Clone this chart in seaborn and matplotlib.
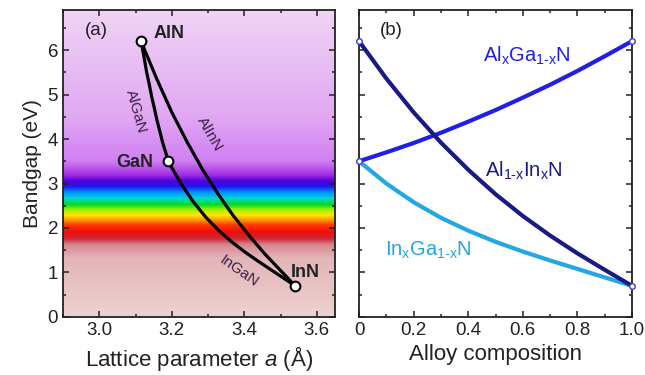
import numpy as np
import matplotlib
matplotlib.use('Agg')
import matplotlib.pyplot as plt
from matplotlib.colors import LinearSegmentedColormap
from matplotlib.ticker import MultipleLocator, FixedLocator, FixedFormatter
import seaborn as sns

sns.set_theme(style='ticks')
plt.rcParams['font.family'] = ['Liberation Sans', 'DejaVu Sans']
plt.rcParams['mathtext.fontset'] = 'custom'
plt.rcParams['mathtext.rm'] = 'Liberation Sans'
plt.rcParams['mathtext.it'] = 'Liberation Sans:italic'

# composition grid and bandgaps (eV)
comp = [0.0, 0.1, 0.2, 0.3, 0.4, 0.5, 0.6, 0.7, 0.8, 0.9, 1.0]
eg_algan = [3.50, 3.70, 3.91, 4.14, 4.39, 4.65, 4.93, 5.22, 5.53, 5.86, 6.20]
eg_alinn = [6.20, 5.36, 4.60, 3.92, 3.31, 2.76, 2.27, 1.83, 1.43, 1.06, 0.70]
eg_ingan = [3.50, 3.00, 2.58, 2.23, 1.94, 1.69, 1.47, 1.27, 1.08, 0.89, 0.70]

# lattice parameters (Å) along the same compositions, panel (a)
a_algan = [3.190, 3.183, 3.175, 3.168, 3.160, 3.153, 3.145, 3.138, 3.130, 3.123, 3.115]
a_alinn = [3.115, 3.158, 3.200, 3.243, 3.285, 3.328, 3.370, 3.413, 3.455, 3.498, 3.540]
a_ingan = [3.190, 3.225, 3.260, 3.295, 3.330, 3.365, 3.400, 3.435, 3.470, 3.505, 3.540]

binaries = ['AlN', 'GaN', 'InN']
bin_a = [3.115, 3.190, 3.540]
bin_eg = [6.20, 3.50, 0.70]

YMAX = 6.9

fig = plt.figure(figsize=(6.45, 3.75), dpi=100)
ax1 = fig.add_axes([0.0977, 0.1547, 0.4217, 0.8187])
ax2 = fig.add_axes([0.5566, 0.1547, 0.4233, 0.8187])

# visible spectrum background
stops = [(0.0, (0.93, 0.82, 0.82)), (1.3, (0.89, 0.71, 0.72)), (1.6, (0.84, 0.54, 0.57)),
         (1.75, (0.80, 0.15, 0.20)), (1.9, (0.95, 0.05, 0.05)), (2.05, (1.0, 0.22, 0.0)),
         (2.15, (1.0, 0.55, 0.0)), (2.28, (1.0, 0.90, 0.0)), (2.4, (0.6, 0.95, 0.0)),
         (2.52, (0.0, 0.85, 0.2)), (2.65, (0.0, 0.85, 0.8)), (2.78, (0.0, 0.6, 1.0)),
         (2.92, (0.1, 0.1, 0.95)), (3.05, (0.35, 0.0, 0.85)), (3.2, (0.65, 0.2, 0.9)),
         (3.5, (0.82, 0.5, 0.95)), (4.5, (0.88, 0.66, 0.95)), (YMAX, (0.94, 0.83, 0.96))]
cmap = LinearSegmentedColormap.from_list('spec', [(v / YMAX, c) for v, c in stops])
grad = np.linspace(0, YMAX, 400).reshape(-1, 1)
ax1.imshow(grad, extent=[2.9, 3.65, 0, YMAX], origin='lower', aspect='auto',
           cmap=cmap, vmin=0, vmax=YMAX, zorder=0)

for xs, ys in [(a_algan, eg_algan), (a_alinn, eg_alinn), (a_ingan, eg_ingan)]:
    sns.lineplot(x=xs, y=ys, ax=ax1, color='black', lw=2.3, sort=False, estimator=None, zorder=3)
ax1.plot(bin_a, bin_eg, 'o', ms=7, mfc='white', mec='black', mew=1.5, zorder=4)

ax1.text(3.15, 6.38, 'AlN', fontsize=13, fontweight='bold', ha='left', va='center', color='#222')
ax1.text(3.15, 3.48, 'GaN', fontsize=13, fontweight='bold', ha='right', va='center', color='#222')
ax1.text(3.528, 1.0, 'InN', fontsize=13, fontweight='bold', ha='left', va='center', color='#222')
lab = dict(fontsize=11, color='#3a2048', ha='center', va='center')
ax1.text(3.10, 4.62, 'AlGaN', rotation=-74, **lab)
ax1.text(3.305, 4.12, 'AlInN', rotation=-60, **lab)
ax1.text(3.386, 1.03, 'InGaN', rotation=-35, **lab)
ax1.text(2.96, 6.43, '(a)', fontsize=13.5, ha='left', va='center', color='#222')

ax1.set_xlim(2.9, 3.65)
ax1.set_ylim(0, YMAX)
ax1.xaxis.set_major_locator(MultipleLocator(0.2))
ax1.xaxis.set_minor_locator(MultipleLocator(0.1))
ax1.set_xlabel('Lattice parameter $a$ (Å)', fontsize=16)
ax1.set_ylabel('Bandgap (eV)', fontsize=15)

# panel (b)
c_algan, c_alinn, c_ingan = '#1f1fe6', '#1a1a85', '#22a6e4'
sns.lineplot(x=comp, y=eg_algan, ax=ax2, color=c_algan, lw=3, sort=False, estimator=None)
sns.lineplot(x=comp, y=eg_ingan, ax=ax2, color=c_ingan, lw=3, sort=False, estimator=None)
sns.lineplot(x=comp, y=eg_alinn, ax=ax2, color=c_alinn, lw=3, sort=False, estimator=None)
ax2.plot([0, 0, 1, 1], [eg_alinn[0], eg_algan[0], eg_algan[-1], eg_ingan[-1]], 'o', ms=4,
         mfc='white', mec='#3a3ad0', mew=1, clip_on=False, zorder=5)

ax2.text(0.454, 5.87, r'Al$_\mathregular{x}$Ga$_\mathregular{1\text{-}x}$N', color=c_algan,
         fontsize=14.5, ha='left', va='center')
ax2.text(0.46, 3.28, r'Al$_\mathregular{1\text{-}x}$In$_\mathregular{x}$N', color=c_alinn,
         fontsize=14.5, ha='left', va='center')
ax2.text(0.095, 1.5, r'In$_\mathregular{x}$Ga$_\mathregular{1\text{-}x}$N', color=c_ingan,
         fontsize=14.5, ha='left', va='center')
ax2.text(0.077, 6.43, '(b)', fontsize=13.5, ha='left', va='center', color='#222')

ax2.set_xlim(0, 1)
ax2.set_ylim(0, YMAX)
ax2.xaxis.set_major_locator(FixedLocator([0, 0.2, 0.4, 0.6, 0.8, 1.0]))
ax2.xaxis.set_major_formatter(FixedFormatter(['0', '0.2', '0.4', '0.6', '0.8', '1.0']))
ax2.xaxis.set_minor_locator(MultipleLocator(0.1))
ax2.set_xlabel('Alloy composition', fontsize=16)

for ax in (ax1, ax2):
    ax.yaxis.set_major_locator(MultipleLocator(1))
    ax.yaxis.set_minor_locator(MultipleLocator(0.5))
    ax.tick_params(which='both', direction='in', top=True, right=True, color='#222',
                   labelsize=13.5, labelcolor='#222', width=1.1)
    ax.tick_params(which='major', length=4.5)
    ax.tick_params(which='minor', length=2.5)
    for s in ax.spines.values():
        s.set_color('#222')
        s.set_linewidth(1.3)
    ax.xaxis.label.set_color('#222')
    ax.yaxis.label.set_color('#222')
ax2.set_yticks(np.arange(0, 7, 1))
ax2.set_yticklabels([])

fig.savefig('out.png', dpi=100)
